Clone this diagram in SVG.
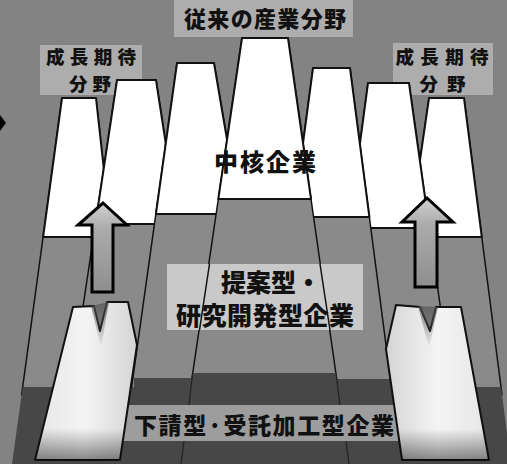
<svg xmlns="http://www.w3.org/2000/svg" width="507" height="464" viewBox="0 0 507 464">
<defs>
<style>
.bg{fill:#838383}
.lbl{fill:#adadad}
.colg{fill:#8a8a8a;stroke:#111;stroke-width:1.5;stroke-linejoin:round}
.colw{fill:#fff;stroke:#111;stroke-width:2;stroke-linejoin:round}
.edge{stroke:#111;stroke-width:1.5;fill:none}
.faint{stroke:#222;stroke-width:1.2;fill:none}
.arrow{fill:url(#ag);stroke:#000;stroke-width:3;stroke-linejoin:miter}
.mblk{stroke:#111;stroke-width:2;stroke-linejoin:round}
.t{font-family:"Noto Sans CJK JP","Noto Sans CJK SC",sans-serif;font-weight:900;fill:#111}
</style>
<linearGradient id="ag" x1="0" y1="0" x2="0" y2="1">
<stop offset="0" stop-color="#d0d0d0"/>
<stop offset="0.3" stop-color="#ababab"/>
<stop offset="1" stop-color="#8e8e8e"/>
</linearGradient>
<linearGradient id="mgL" x1="0" y1="0" x2="1" y2="0">
<stop offset="0" stop-color="#e6e6e6"/>
<stop offset="0.5" stop-color="#f4f4f4"/>
<stop offset="1" stop-color="#d4d4d4"/>
</linearGradient>
<linearGradient id="mgR" x1="0" y1="0" x2="1" y2="0">
<stop offset="0" stop-color="#d4d4d4"/>
<stop offset="0.5" stop-color="#f4f4f4"/>
<stop offset="1" stop-color="#e6e6e6"/>
</linearGradient>
<linearGradient id="mbot" x1="0" y1="0" x2="0" y2="1">
<stop offset="0" stop-color="#000" stop-opacity="0"/>
<stop offset="0.8" stop-color="#000" stop-opacity="0"/>
<stop offset="1" stop-color="#000" stop-opacity="0.45"/>
</linearGradient>
<linearGradient id="notch" x1="0" y1="0" x2="0" y2="1">
<stop offset="0" stop-color="#555" stop-opacity="0.7"/>
<stop offset="1" stop-color="#555" stop-opacity="0"/>
</linearGradient>
</defs>

<rect class="bg" x="0" y="0" width="507" height="464"/>
<polygon points="0,115 6,123 0,131" fill="#000"/>

<g id="label-boxes">
<rect class="lbl" x="174" y="0" width="179" height="37"/>
<rect class="lbl" x="40" y="45" width="102" height="50"/>
<rect class="lbl" x="393" y="43" width="100" height="52"/>
</g>

<g id="columns">
<g id="col1">
<polygon class="colg" points="62,98 96,98 128.7,395 21.6,395"/>
<polygon class="colw" points="62,98 96,98 111.3,237 43.1,237"/>
</g>
<g id="col7">
<polygon class="colg" points="429,98 464,98 502,395 385.9,395"/>
<polygon class="colw" points="429,98 464,98 481.8,237 408.8,237"/>
</g>
<g id="col2">
<polygon class="colg" points="117,80 156,80 204.5,395 69.75,395"/>
<polygon class="colw" points="117,80 156,80 178.2,224 95.4,224"/>
</g>
<g id="col6">
<polygon class="colg" points="368,83 409,83 452.7,395 326.5,395"/>
<polygon class="colw" points="368,83 409,83 429.3,228 348.7,228"/>
</g>
<g id="col3">
<polygon class="colg" points="177,63 214,63 270.4,395 130.5,395"/>
<polygon class="colw" points="177,63 214,63 239.7,214 155.9,214"/>
</g>
<g id="col5">
<polygon class="colg" points="313,68 350,68 392.5,395 269.5,395"/>
<polygon class="colw" points="313,68 350,68 369.4,217 293.2,217"/>
</g>
<g id="col4">
<polygon class="colg" points="242,38 288,38 339,395 189.5,395"/>
<polygon class="colw" points="242,38 288,38 311,199 218.3,199"/>
</g>
</g>

<g id="base-layers">
<polygon id="dark-band" fill="#474747" points="22.7,387 134,387 134,378 193,378 193,373 336,373 336,379 390,379 390,387 501,387 511,464 12,464"/>
<rect id="light-band" x="110" y="405" width="305" height="36" fill="#9d9d9d"/>
<g class="faint">
<line x1="192.5" y1="374" x2="189" y2="405"/>
<line x1="336" y1="374" x2="340" y2="405"/>
<line x1="184" y1="441" x2="181" y2="464"/>
<line x1="346" y1="441" x2="349" y2="464"/>
</g>
</g>

<g id="middle-label">
<rect x="167" y="264" width="196" height="66" fill="#c9c9c9"/>
<line class="edge" x1="209.5" y1="264" x2="199.5" y2="330"/>
<line class="edge" x1="320" y1="264" x2="330" y2="330"/>
</g>

<g id="arrows">
<polygon id="arrow-left" class="arrow" points="103,203 127,225 113,225 113,292 92,292 92,225 78,225"/>
<polygon id="arrow-right" class="arrow" points="427,198 453,222 437,222 437,287 415,287 415,222 402,222"/>
</g>

<g id="blocks">
<g id="block-left">
<polygon class="mblk" fill="url(#mgL)" points="73,307 94,306 100,331 107,302 128,302 137,345 120,460 35,460"/>
<polygon fill="url(#notch)" points="91,306 109,302 101,348"/>
<polygon fill="url(#mbot)" points="73,307 128,302 137,345 120,460 35,460"/>
</g>
<g id="block-right">
<polygon class="mblk" fill="url(#mgR)" points="396,305 420,307 430,331 436,307 461,307 489,460 402,460 386,349"/>
<polygon fill="url(#notch)" points="418,306 438,307 429,348"/>
<polygon fill="url(#mbot)" points="396,305 461,307 489,460 402,460 386,349"/>
</g>
</g>

<g id="labels">
<text class="t" x="265" y="26.5" font-size="22" text-anchor="middle" textLength="162" lengthAdjust="spacing">従来の産業分野</text>
<text class="t" x="91" y="63.5" font-size="18.5" text-anchor="middle" textLength="90" lengthAdjust="spacing">成長期待</text>
<text class="t" x="90" y="90.5" font-size="18.5" text-anchor="middle" textLength="42" lengthAdjust="spacing">分野</text>
<text class="t" x="442" y="63.5" font-size="18.5" text-anchor="middle" textLength="93" lengthAdjust="spacing">成長期待</text>
<text class="t" x="442.5" y="90.5" font-size="18.5" text-anchor="middle" textLength="46" lengthAdjust="spacing">分野</text>
<text class="t" x="265" y="171" font-size="24" text-anchor="middle" textLength="102" lengthAdjust="spacing">中核企業</text>
<text class="t" x="221" y="292" font-size="25">提案型・</text>
<text class="t" x="265" y="325" font-size="25" text-anchor="middle" textLength="178" lengthAdjust="spacing">研究開発型企業</text>
<text class="t" x="264" y="433.5" font-size="23" text-anchor="middle" textLength="260" lengthAdjust="spacing">下請型·受託加工型企業</text>
</g>
</svg>
